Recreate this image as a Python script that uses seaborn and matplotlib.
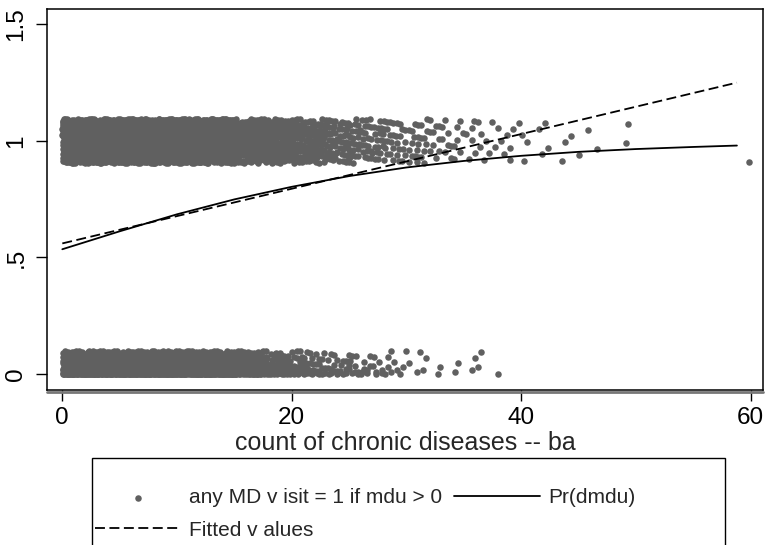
import numpy as np
import pandas as pd
import matplotlib
matplotlib.use('Agg')
import matplotlib.pyplot as plt
import seaborn as sns
from matplotlib.patches import Rectangle

# count of chronic diseases, 1-unit bins (left edge)
bin_left = list(range(0, 60))

n_visit = [150, 140, 150, 160, 150, 150, 160, 160, 160, 160,
           160, 160, 160, 160, 150, 55, 75, 65, 58, 52,
           46, 41, 36, 31, 27, 23, 20, 18, 16, 14,
           13, 11, 10, 8, 7, 6, 5, 4, 4, 3,
           3, 2, 2, 2, 1, 2, 1, 0, 0, 2,
           0, 0, 0, 0, 0, 0, 0, 0, 0, 1]
n_novisit = [90, 90, 90, 90, 90, 90, 90, 90, 90, 90,
             90, 90, 90, 90, 90, 60, 60, 40, 30, 25,
             20, 16, 14, 12, 10, 9, 8, 7, 6, 4,
             2, 3, 2, 0, 2, 2, 2, 1, 0, 0,
             0, 0, 0, 0, 0, 0, 0, 0, 0, 0,
             0, 0, 0, 0, 0, 0, 0, 0, 0, 0]

# fitted curves
curve_x = [0, 5, 10, 15, 20, 25, 30, 35, 40, 45, 50, 55, 58.8]
prob_y = [0.535, 0.612, 0.685, 0.749, 0.803, 0.849, 0.886, 0.914,
          0.936, 0.953, 0.965, 0.974, 0.98]
lfit_x = [0, 58.8]
lfit_y = [0.56, 1.25]

# deterministic jitter inside each bin (stands in for stata's jitter())
G = 1.32471795724474602596
A1, A2 = 1 / G, 1 / G ** 2


def spread(counts, base, height, skew, k=0):
    xs, ys = [], []
    for left, n in zip(bin_left, counts):
        for _ in range(n):
            u = (0.5 + k * A1) % 1
            v = (0.5 + k * A2) % 1
            xs.append(left + u)
            ys.append(base + height * v ** skew)
            k += 1
    return xs, ys


x1, y1 = spread(n_visit, 0.905, 0.19, 1)
x0, y0 = spread(n_novisit, 0.0, 0.1, 2, k=7)
pts = pd.DataFrame({'x': x1 + x0, 'y': y1 + y0})

sns.set_theme(style='ticks')
plt.rcParams['font.family'] = ['Liberation Sans', 'DejaVu Sans']

fig = plt.figure(figsize=(7.66, 5.45), dpi=100)
ax = fig.add_axes([46.7 / 766, 1 - 390 / 545, 716.6 / 766, 381 / 545])

gray = '#606060'
sns.scatterplot(data=pts, x='x', y='y', color=gray, s=22, linewidth=0,
                ax=ax, label='any MD v isit = 1 if mdu > 0', zorder=2)
sns.lineplot(x=curve_x, y=prob_y, color='black', lw=1.3, ax=ax,
             label='Pr(dmdu)', zorder=3)
sns.lineplot(x=lfit_x, y=lfit_y, color='black', lw=1.3, ax=ax,
             linestyle=(0, (5.5, 2.5)), label='Fitted v alues', zorder=3)

ax.set_xlim(-1.36, 61.1)
ax.set_ylim(-0.069, 1.566)
ax.set_xticks([0, 20, 40, 60])
ax.set_yticks([0, 0.5, 1, 1.5])
ax.set_yticklabels(['0', '.5', '1', '1.5'])
ax.tick_params(axis='both', labelsize=17.5, colors='black', length=8, width=1)
ax.tick_params(axis='y', labelrotation=90, pad=6)
ax.tick_params(axis='x', pad=4)
for t in ax.get_yticklabels():
    t.set_va('center')
ax.set_xlabel('count of chronic diseases -- ba', fontsize=18, labelpad=2)
ax.set_ylabel('')
for s in ax.spines.values():
    s.set_color('black')
    s.set_linewidth(1.1)
ax.plot([0, 1], [-0.006, -0.006], transform=ax.transAxes, color='#777777',
        lw=2, clip_on=False, zorder=1)

h, l = ax.get_legend_handles_labels()
order = [l.index('any MD v isit = 1 if mdu > 0'), l.index('Fitted v alues'), l.index('Pr(dmdu)')]
ax.legend([h[i] for i in order], [l[i] for i in order], ncol=2, frameon=False,
          loc='upper left', bbox_to_anchor=(95 / 766, 1 - 488 / 545),
          bbox_transform=fig.transFigure, fontsize=15, handlelength=4.1,
          handletextpad=0.4, columnspacing=0.6, labelspacing=0.65,
          borderpad=0, borderaxespad=0)
fig.add_artist(Rectangle((92 / 766, -0.1), 633 / 766, 0.1 + 1 - 458 / 545,
                         transform=fig.transFigure, fill=False,
                         edgecolor='black', lw=1))

fig.savefig('out.png', dpi=100)
